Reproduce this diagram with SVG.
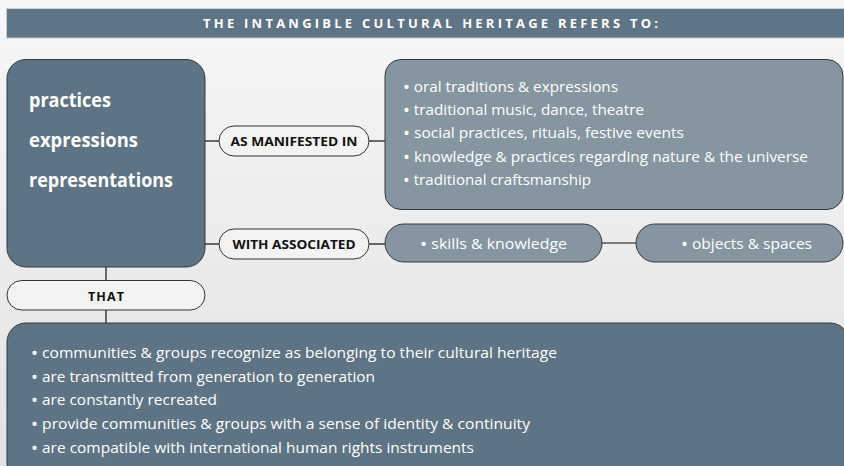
<svg xmlns="http://www.w3.org/2000/svg" width="844" height="466" viewBox="0 0 844 466">
<defs>
<linearGradient id="bg" x1="0" y1="0" x2="0" y2="1">
<stop offset="0" stop-color="#f7f7f7"/>
<stop offset="1" stop-color="#e2e2e2"/>
</linearGradient>
</defs>
<style>
.dark{fill:#5e7383;stroke:#34393e;stroke-width:1}
.light{fill:#8596a1;stroke:#34393e;stroke-width:1}
.pill{fill:#f3f3f3;stroke:#333;stroke-width:1}
.wl{font-family:"Open Sans","Noto Sans",sans-serif;fill:#ffffff;font-size:15px}
.b{font-size:18px}
.big{font-family:"Open Sans","Noto Sans",sans-serif;fill:#ffffff;font-size:19px;font-weight:bold}
.lab{font-family:"Open Sans","Noto Sans",sans-serif;fill:#111;font-size:12.5px;font-weight:bold;text-anchor:middle}
.hdr{font-family:"Open Sans","Noto Sans",sans-serif;fill:#ffffff;font-size:13px;font-weight:bold;text-anchor:middle}
.con{stroke:#111;stroke-width:1.2;fill:none}
</style>
<rect x="0" y="0" width="844" height="466" fill="url(#bg)"/>
<g id="header">
<rect x="6.5" y="8.5" width="840" height="29.5" fill="#5f7484" stroke="#c8cccf" stroke-width="1"/>
<text class="hdr" x="430.5" y="28" textLength="455" lengthAdjust="spacing">THE INTANGIBLE CULTURAL HERITAGE REFERS TO:</text>
</g>
<g id="connectors">
<line class="con" x1="205" y1="141" x2="219" y2="141"/>
<line class="con" x1="369" y1="141" x2="385" y2="141"/>
<line class="con" x1="205" y1="244" x2="219" y2="244"/>
<line class="con" x1="369" y1="244" x2="385" y2="244"/>
<line class="con" x1="602" y1="243" x2="636" y2="243"/>
<line class="con" x1="106" y1="267" x2="106" y2="280"/>
<line class="con" x1="106" y1="310" x2="106" y2="323"/>
</g>
<g id="main">
<rect class="dark" x="7" y="59.5" width="198" height="207.5" rx="19"/>
<text class="big" x="29" y="107" textLength="82" lengthAdjust="spacingAndGlyphs">practices</text>
<text class="big" x="29" y="147" textLength="109" lengthAdjust="spacingAndGlyphs">expressions</text>
<text class="big" x="29" y="187" textLength="144" lengthAdjust="spacingAndGlyphs">representations</text>
</g>
<g id="as-manifested-in">
<rect class="pill" x="219" y="126" width="150" height="30" rx="15"/>
<text class="lab" x="294" y="146" textLength="127" lengthAdjust="spacingAndGlyphs">AS MANIFESTED IN</text>
</g>
<g id="domains">
<rect class="light" x="385" y="59.5" width="458" height="150" rx="16"/>
<text class="wl" x="403" y="92" textLength="215" lengthAdjust="spacingAndGlyphs"><tspan class="b" dy="2">•</tspan><tspan dy="-2"> oral traditions &amp; expressions</tspan></text>
<text class="wl" x="403" y="115" textLength="241" lengthAdjust="spacingAndGlyphs"><tspan class="b" dy="2">•</tspan><tspan dy="-2"> traditional music, dance, theatre</tspan></text>
<text class="wl" x="403" y="138" textLength="281" lengthAdjust="spacingAndGlyphs"><tspan class="b" dy="2">•</tspan><tspan dy="-2"> social practices, rituals, festive events</tspan></text>
<text class="wl" x="403" y="162" textLength="405" lengthAdjust="spacingAndGlyphs"><tspan class="b" dy="2">•</tspan><tspan dy="-2"> knowledge &amp; practices regarding nature &amp; the universe</tspan></text>
<text class="wl" x="403" y="185" textLength="188" lengthAdjust="spacingAndGlyphs"><tspan class="b" dy="2">•</tspan><tspan dy="-2"> traditional craftsmanship</tspan></text>
</g>
<g id="with-associated">
<rect class="pill" x="219" y="229" width="150" height="30" rx="15"/>
<text class="lab" x="294" y="249" textLength="123" lengthAdjust="spacingAndGlyphs">WITH ASSOCIATED</text>
</g>
<g id="skills">
<rect class="light" x="385" y="224" width="217" height="38" rx="19"/>
<text class="wl" x="420" y="249" textLength="147" lengthAdjust="spacingAndGlyphs"><tspan class="b" dy="2">•</tspan><tspan dy="-2"> skills &amp; knowledge</tspan></text>
</g>
<g id="objects">
<rect class="light" x="636" y="224" width="207" height="38" rx="19"/>
<text class="wl" x="681" y="249" textLength="131" lengthAdjust="spacingAndGlyphs"><tspan class="b" dy="2">•</tspan><tspan dy="-2"> objects &amp; spaces</tspan></text>
</g>
<g id="that">
<rect class="pill" x="7" y="280.5" width="198" height="29.5" rx="14.75"/>
<text class="lab" x="106" y="301" textLength="36" lengthAdjust="spacing">THAT</text>
</g>
<g id="criteria">
<rect class="dark" x="7" y="323" width="842" height="160" rx="19"/>
<text class="wl" x="31" y="358" textLength="526" lengthAdjust="spacingAndGlyphs"><tspan class="b" dy="2">•</tspan><tspan dy="-2"> communities &amp; groups recognize as belonging to their cultural heritage</tspan></text>
<text class="wl" x="31" y="382" textLength="344" lengthAdjust="spacingAndGlyphs"><tspan class="b" dy="2">•</tspan><tspan dy="-2"> are transmitted from generation to generation</tspan></text>
<text class="wl" x="31" y="405" textLength="186" lengthAdjust="spacingAndGlyphs"><tspan class="b" dy="2">•</tspan><tspan dy="-2"> are constantly recreated</tspan></text>
<text class="wl" x="31" y="429" textLength="499" lengthAdjust="spacingAndGlyphs"><tspan class="b" dy="2">•</tspan><tspan dy="-2"> provide communities &amp; groups with a sense of identity &amp; continuity</tspan></text>
<text class="wl" x="31" y="453" textLength="443" lengthAdjust="spacingAndGlyphs"><tspan class="b" dy="2">•</tspan><tspan dy="-2"> are compatible with international human rights instruments</tspan></text>
</g>
</svg>
